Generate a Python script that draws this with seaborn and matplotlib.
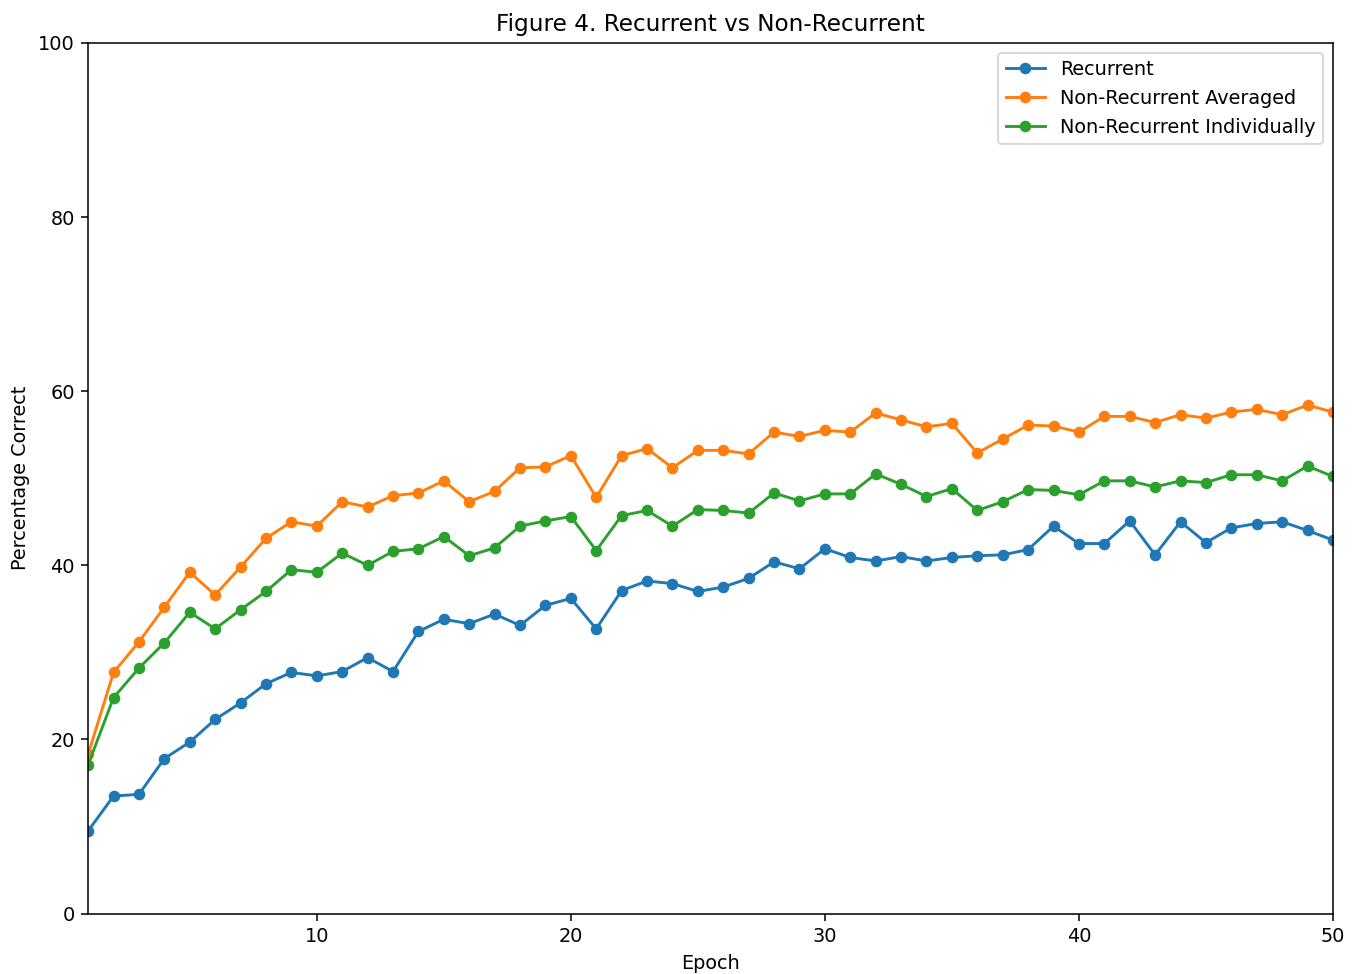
import pandas as pd
import seaborn as sns
import matplotlib.pyplot as plt

epochs = list(range(1, 51))

recurrent = [
    9.5, 13.5, 13.7, 17.8, 19.7, 22.3, 24.2, 26.4, 27.7, 27.3,
    27.8, 29.4, 27.8, 32.4, 33.8, 33.3, 34.4, 33.1, 35.4, 36.2,
    32.7, 37.1, 38.2, 37.9, 37.0, 37.5, 38.5, 40.4, 39.6, 41.9,
    40.9, 40.5, 41.0, 40.5, 40.9, 41.1, 41.2, 41.8, 44.5, 42.5,
    42.5, 45.1, 41.2, 45.0, 42.6, 44.3, 44.8, 45.0, 44.0, 42.9,
]
non_recurrent_avg = [
    18.3, 27.7, 31.2, 35.2, 39.2, 36.6, 39.8, 43.1, 45.0, 44.5,
    47.3, 46.7, 48.0, 48.3, 49.7, 47.3, 48.5, 51.2, 51.3, 52.6,
    47.8, 52.6, 53.4, 51.2, 53.2, 53.2, 52.8, 55.3, 54.8, 55.5,
    55.3, 57.5, 56.7, 55.9, 56.3, 52.9, 54.5, 56.1, 56.0, 55.3,
    57.1, 57.1, 56.4, 57.3, 56.9, 57.6, 57.9, 57.3, 58.4, 57.6,
]
non_recurrent_ind = [
    17.1, 24.8, 28.2, 31.1, 34.6, 32.7, 34.9, 37.0, 39.5, 39.2,
    41.4, 40.0, 41.6, 41.9, 43.3, 41.1, 42.0, 44.5, 45.1, 45.6,
    41.7, 45.7, 46.3, 44.5, 46.4, 46.3, 46.0, 48.3, 47.4, 48.2,
    48.2, 50.5, 49.3, 47.9, 48.8, 46.3, 47.3, 48.7, 48.6, 48.1,
    49.7, 49.7, 49.0, 49.7, 49.5, 50.4, 50.4, 49.7, 51.4, 50.2,
]

series = {
    "Recurrent": recurrent,
    "Non-Recurrent Averaged": non_recurrent_avg,
    "Non-Recurrent Individually": non_recurrent_ind,
}
colors = ["#1f77b4", "#ff7f0e", "#2ca02c"]

df = pd.DataFrame({"Epoch": epochs, **series})

# the reference looks like default matplotlib rendered at ~139 dpi
DPI = 139
plt.rcParams["font.family"] = ["DejaVu Sans"]
fig = plt.figure(figsize=(1356 / DPI, 974 / DPI), dpi=DPI)
ax = fig.add_axes([0.065, 0.062, 0.918, 0.894])

for (name, _), color in zip(series.items(), colors):
    sns.lineplot(x="Epoch", y=name, data=df, ax=ax, color=color, label=name,
                 marker="o", markersize=6, markeredgewidth=0, linewidth=1.5)

ax.set_xlim(1, 50)
ax.set_ylim(0, 100)
ax.set_xlabel("Epoch")
ax.set_ylabel("Percentage Correct")
ax.set_title("Figure 4. Recurrent vs Non-Recurrent")
ax.legend(loc="upper right")

fig.savefig("out.png", dpi=DPI)
